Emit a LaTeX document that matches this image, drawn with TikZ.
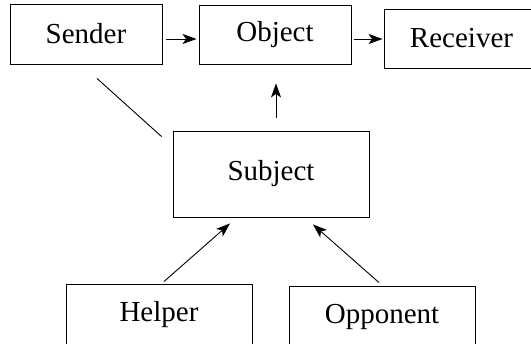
\documentclass[tikz,border=0pt]{standalone}
\usepackage{fontspec}
\setmainfont{Liberation Serif}
\usetikzlibrary{arrows.meta}
\begin{document}
\begin{tikzpicture}[x=1pt,y=-1pt,
  actant/.style={draw,line width=0.9pt,inner sep=0pt,
    font=\fontsize{29}{34}\selectfont},
  link/.style={line width=0.9pt},
  arr/.style={link,-{Stealth[length=14pt,width=10pt,inset=3.5pt]}}]
\useasboundingbox (0,0) rectangle (531,344);
\clip (0,0) rectangle (531,344);

% actants
\node[actant,minimum width=152pt,minimum height=60pt] (Sender)   at (86,34)     {Sender};
\node[actant,minimum width=152pt,minimum height=59pt] (Object)   at (275,34.5)  {Object};
\node[actant,minimum width=155pt,minimum height=59pt] (Receiver) at (461.5,38.5){Receiver};
\node[actant,minimum width=196pt,minimum height=86pt] (Subject)  at (271,174)   {Subject};
\node[actant,minimum width=186pt,minimum height=62pt] (Helper)   at (159,315)   {Helper};
\node[actant,minimum width=186pt,minimum height=62pt] (Opponent) at (382,317)   {Opponent};

% axis of communication
\draw[arr] (Sender.east |- 0,39) ++(4,0) -- ([xshift=-2pt]Object.west |- 0,39);
\draw[arr] (Object.east |- 0,39) ++(3,0) -- ([xshift=-1pt]Receiver.west |- 0,39);

% axis of desire
\draw[arr] (Object.south |- Subject.north) ++(1,-13) -- ([shift={(1,19)}]Object.south);
\draw[link] ([shift={(11,14)}]Sender.south) -- ([shift={(-11,6)}]Subject.north west);

% axis of power
\draw[arr] ([shift={(5,-2)}]Helper.north) -- ([shift={(-41,6)}]Subject.south);
\draw[arr] ([shift={(-3,-3)}]Opponent.north) -- ([shift={(42,7)}]Subject.south);
\end{tikzpicture}
\end{document}
